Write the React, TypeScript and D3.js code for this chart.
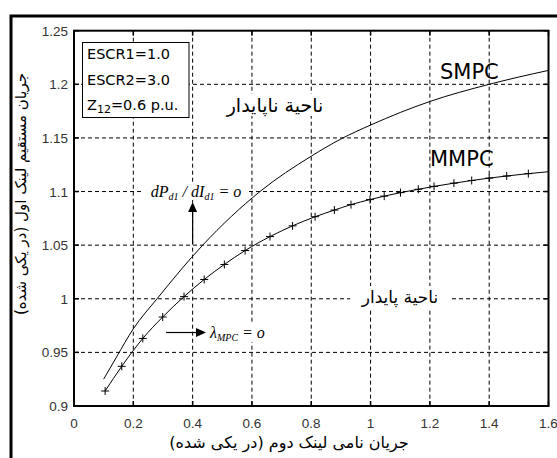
import * as d3 from "d3";

const width = 557;
const height = 458;
// plot box (MATLAB style axes)
const left = 74;
const right = 548.5;
const top = 30.7;
const bottom = 406;

const xTicks = [0, 0.2, 0.4, 0.6, 0.8, 1, 1.2, 1.4, 1.6];
const xTickLabels = ["0", "0.2", "0.4", "0.6", "0.8", "1", "1.2", "1.4", "1.6"];
const yTicks = [0.9, 0.95, 1, 1.05, 1.1, 1.15, 1.2, 1.25];
const yTickLabels = ["0.9", "0.95", "1", "1.05", "1.1", "1.15", "1.2", "1.25"];

// SMPC curve
const smpcX = [0.1, 0.144, 0.2, 0.28, 0.434, 0.627, 0.8, 0.9, 1.0, 1.2, 1.4, 1.6];
const smpcY = [0.925, 0.946, 0.972, 1.0, 1.05, 1.1, 1.133, 1.149, 1.162, 1.184, 1.2, 1.213];

// MMPC markers
const mmpcX = [
  0.105, 0.161, 0.232, 0.299, 0.371, 0.439, 0.507, 0.577, 0.661, 0.737, 0.813,
  0.878, 0.934, 0.998, 1.046, 1.101, 1.161, 1.214, 1.281, 1.341, 1.4, 1.459, 1.532,
];
const mmpcY = [
  0.914, 0.937, 0.963, 0.983, 1.002, 1.018, 1.032, 1.045, 1.058, 1.068, 1.0765,
  1.0827, 1.0878, 1.0925, 1.0957, 1.099, 1.1021, 1.1048, 1.1078, 1.1103, 1.1125,
  1.1145, 1.1167,
];
const mmpcEnd = [1.6, 1.1185];

const paramLines = ["ESCR1=1.0", "ESCR2=3.0"];

const x = d3.scaleLinear().domain([0, 1.6]).range([left, right]);
const y = d3.scaleLinear().domain([0.9, 1.25]).range([bottom, top]);

const App = () => {
  const smpc = smpcX.map((v, i) => [v, smpcY[i]] as [number, number]);
  const mmpc = mmpcX.map((v, i) => [v, mmpcY[i]] as [number, number]);
  const mmpcLine = [...mmpc, mmpcEnd as [number, number]];

  const line = d3
    .line<[number, number]>()
    .x((d) => x(d[0]))
    .y((d) => y(d[1]))
    .curve(d3.curveMonotoneX);

  const tickFont = "'Liberation Sans', Arial, sans-serif";
  const persian = "'DejaVu Sans', sans-serif";
  const serif = "'Liberation Serif', 'Times New Roman', serif";

  return (
    <svg
      width={width}
      height={height}
      viewBox={`0 0 ${width} ${height}`}
      style={{ position: "absolute", left: 0, top: 0, background: "#fff" }}
    >
      <rect x={0} y={0} width={width} height={height} fill="#fff" />
      {/* outer frame */}
      <rect x={11} y={16} width={width + 20} height={height + 20} fill="none" stroke="#000" strokeWidth={3} />

      {/* grid */}
      <g stroke="#000" strokeWidth={1} strokeDasharray="4,3">
        {xTicks.slice(1, -1).map((t) => (
          <line key={"gx" + t} x1={x(t)} x2={x(t)} y1={top} y2={bottom} />
        ))}
        {yTicks.slice(1, -1).map((t) => (
          <line key={"gy" + t} x1={left} x2={right} y1={y(t)} y2={y(t)} />
        ))}
      </g>

      {/* ticks inside on all sides */}
      <g stroke="#000" strokeWidth={1.5}>
        {xTicks.map((t) => (
          <g key={"tx" + t}>
            <line x1={x(t)} x2={x(t)} y1={bottom} y2={bottom - 5} />
            <line x1={x(t)} x2={x(t)} y1={top} y2={top + 5} />
          </g>
        ))}
        {yTicks.map((t) => (
          <g key={"ty" + t}>
            <line x1={left} x2={left + 5} y1={y(t)} y2={y(t)} />
            <line x1={right} x2={right - 5} y1={y(t)} y2={y(t)} />
          </g>
        ))}
      </g>

      {/* tick labels */}
      <g fontFamily={tickFont} fontSize={13.5} fill="#333">
        {xTicks.map((t, i) => (
          <text key={"lx" + t} x={x(t)} y={428} textAnchor="middle">
            {xTickLabels[i]}
          </text>
        ))}
        {yTicks.map((t, i) => (
          <text key={"ly" + t} x={68} y={y(t) + 5} textAnchor="end">
            {yTickLabels[i]}
          </text>
        ))}
      </g>

      {/* curves */}
      <path d={line(smpc) as string} fill="none" stroke="#000" strokeWidth={1} />
      <path d={line(mmpcLine) as string} fill="none" stroke="#000" strokeWidth={1} />
      <g stroke="#000" strokeWidth={1}>
        {mmpc.map((d, i) => (
          <g key={"m" + i}>
            <line x1={x(d[0]) - 4} x2={x(d[0]) + 4} y1={y(d[1])} y2={y(d[1])} />
            <line x1={x(d[0])} x2={x(d[0])} y1={y(d[1]) - 4} y2={y(d[1]) + 4} />
          </g>
        ))}
      </g>

      {/* axes box */}
      <rect x={left} y={top} width={right - left} height={bottom - top} fill="none" stroke="#000" strokeWidth={2} />

      {/* parameter box */}
      <rect x={82.5} y={42.5} width={106.5} height={75} fill="#fff" stroke="#000" strokeWidth={1} />
      <g fontFamily="'DejaVu Sans', sans-serif" fontSize={14.5} fill="#000">
        {paramLines.map((s, i) => (
          <text key={s} x={87} y={59 + i * 26}>
            {s}
          </text>
        ))}
        <text x={87} y={110}>
          Z<tspan fontSize={11} dy={3}>12</tspan>
          <tspan dy={-3}>=0.6 p.u.</tspan>
        </text>
      </g>

      {/* curve names */}
      <text x={440} y={79} fontFamily="'DejaVu Sans', sans-serif" fontSize={21} fill="#000">
        SMPC
      </text>
      <text x={430} y={166} fontFamily="'DejaVu Sans', sans-serif" fontSize={21} fill="#000">
        MMPC
      </text>

      {/* region labels */}
      <rect x={214} y={94} width={122} height={22} fill="#fff" />
      <text x={275} y={112} textAnchor="middle" fontFamily={persian} fontSize={19} fill="#000" direction="rtl">
        ناحیة ناپایدار
      </text>
      <rect x={350} y={286} width={100} height={22} fill="#fff" />
      <text x={400} y={303} textAnchor="middle" fontFamily={persian} fontSize={17} fill="#000" direction="rtl">
        ناحیة پایدار
      </text>

      {/* annotation dP/dI = o */}
      <rect x={143} y={182} width={104} height={18} fill="#fff" />
      <text x={196} y={197} textAnchor="middle" fontFamily={serif} fontStyle="italic" fontSize={16} fill="#000">
        dP<tspan fontSize={10} dy={3}>d1</tspan>
        <tspan dy={-3}> / dI</tspan>
        <tspan fontSize={10} dy={3}>d1</tspan>
        <tspan dy={-3}> = o</tspan>
      </text>
      <line x1={x(0.4)} x2={x(0.4)} y1={244} y2={211} stroke="#000" strokeWidth={1.2} />
      <path d={`M${x(0.4) - 4.5},212 L${x(0.4) + 4.5},212 L${x(0.4)},202 Z`} fill="#000" />

      {/* annotation lambda = o */}
      <rect x={208} y={322} width={64} height={20} fill="#fff" />
      <line x1={166} x2={197} y1={332.5} y2={332.5} stroke="#000" strokeWidth={1.2} />
      <path d={`M196,328 L196,337 L206,332.5 Z`} fill="#000" />
      <text x={210} y={338} fontFamily={serif} fontStyle="italic" fontSize={16} fill="#000">
        λ<tspan fontSize={10} dy={3}>MPC</tspan>
        <tspan dy={-3}> = o</tspan>
      </text>

      {/* axis titles */}
      <text x={289} y={448} textAnchor="middle" fontFamily={persian} fontSize={16} fill="#000" direction="rtl">
        جریان نامی لینک دوم (در یکی شده)
      </text>
      <text
        transform="translate(26,194) rotate(-90)"
        textAnchor="middle"
        fontFamily={persian}
        fontSize={15}
        fill="#000"
        direction="rtl"
      >
        جریان مستقیم لینک اول (در یکی شده)
      </text>
    </svg>
  );
};

export default App;
